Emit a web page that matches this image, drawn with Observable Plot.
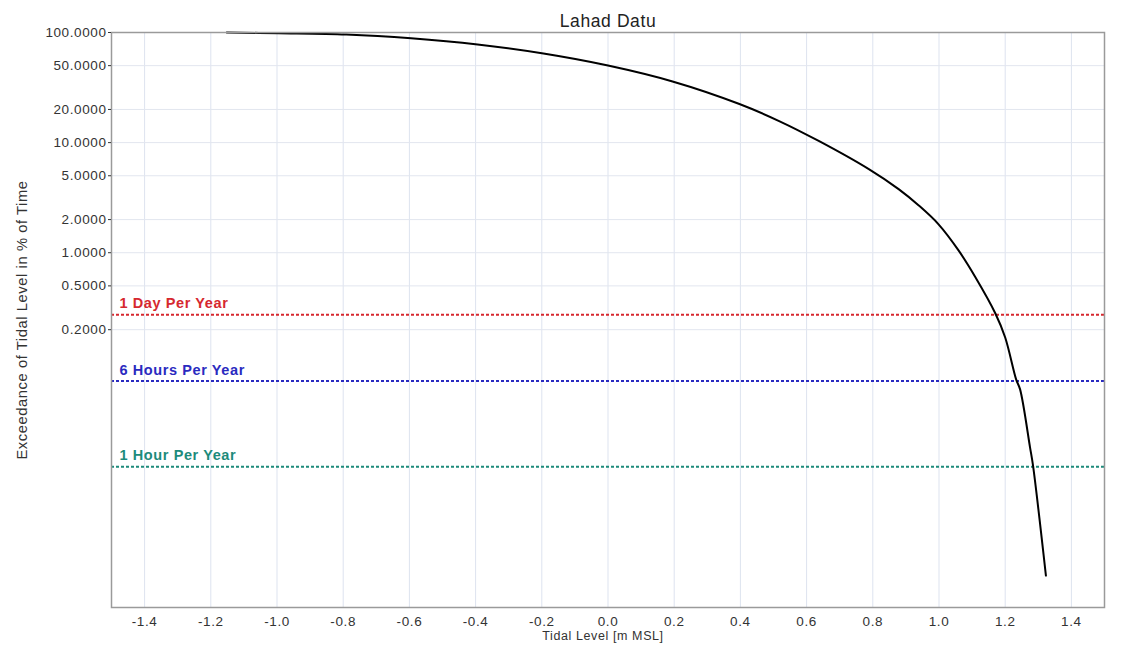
<!DOCTYPE html>
<html><head><meta charset="utf-8">
<script src="https://cdn.jsdelivr.net/npm/d3@7"></script>
<script src="https://cdn.jsdelivr.net/npm/@observablehq/plot@0.6"></script>
<style>
body{margin:0;background:#fff;}
#chart svg text{letter-spacing:0.6px;}
</style>
</head><body><div id="chart"></div>
<script>
// Data
const tidalLevel = [-1.152, -0.995, -0.791, -0.595, -0.394, -0.195, 0.0, 0.195, 0.397, 0.517, 0.638, 0.788, 0.878, 0.938, 0.998, 1.059, 1.110, 1.170, 1.200, 1.233, 1.245, 1.275, 1.284, 1.323];
const exceedance = [100, 98.5, 95.9, 88.6, 77.8, 64.4, 50.1, 35.9, 22.4, 15.7, 10.3, 5.74, 3.78, 2.70, 1.82, 1.05, 0.599, 0.282, 0.170, 0.0708, 0.0574, 0.0171, 0.0117, 0.00117];

const refLabels = ["1 Day Per Year", "6 Hours Per Year", "1 Hour Per Year"];
const refValues = [0.274, 0.0685, 0.0114];
const refColors = ["#d6282f", "#2a2ac0", "#1d8b7b"];

const xTicks = [-1.4, -1.2, -1.0, -0.8, -0.6, -0.4, -0.2, 0.0, 0.2, 0.4, 0.6, 0.8, 1.0, 1.2, 1.4];
const yTicks = [100, 50, 20, 10, 5, 2, 1, 0.5, 0.2];

const titleText = "Lahad Datu";
const xLabel = "Tidal Level [m MSL]";
const yLabel = "Exceedance of Tidal Level in % of Time";

const curveData = tidalLevel.map((x, i) => ({x, y: exceedance[i]}));
const refs = refLabels.map((label, i) => ({label, value: refValues[i], color: refColors[i]}));

const chart = Plot.plot({
  width: 1127,
  height: 645,
  marginTop: 32,
  marginLeft: 111,
  marginRight: 23,
  marginBottom: 38,
  style: {fontFamily: "'Liberation Sans', Arial, sans-serif", fontSize: "13px", color: "#333", background: "#fff"},
  x: {domain: [-1.5, 1.5]},
  y: {type: "log", domain: [0.0006, 100]},
  color: {type: "identity"},
  marks: [
    Plot.gridX(xTicks, {stroke: "#dde3ef", strokeOpacity: 1}),
    Plot.gridY(yTicks, {stroke: "#e2e6ef", strokeOpacity: 1}),
    Plot.ruleY(refs, {y: "value", stroke: "color", strokeWidth: 2, strokeDasharray: "3,2"}),
    Plot.text(refs, {x: -1.5, y: "value", text: "label", fill: "color", textAnchor: "start", dx: 8, dy: -11, fontWeight: "bold", fontSize: 14.5}),
    Plot.line(curveData, {x: "x", y: "y", stroke: "black", strokeWidth: 2, curve: "catmull-rom"}),
    Plot.frame({stroke: "#9a9a9a", strokeWidth: 1.5}),
    Plot.axisX(xTicks, {tickSize: 0, tickPadding: 9, tickFormat: d => d.toFixed(1), fontSize: 13.5, label: null}),
    Plot.axisY(yTicks, {tickSize: 3, tickFormat: () => "", label: null}),
    Plot.text(yTicks, {y: d => d, frameAnchor: "left", text: d => d.toFixed(4), textAnchor: "end", dx: -5, fontSize: 13.5, fill: "#333"}),
    Plot.text([xLabel], {frameAnchor: "bottom", lineAnchor: "top", dx: -5, dy: 24, fontSize: 12.5, fill: "#333"}),
    Plot.text([yLabel], {frameAnchor: "left", textAnchor: "middle", dx: -89, rotate: -90, fontSize: 14.7, fill: "#333"}),
    Plot.text([titleText], {frameAnchor: "top", lineAnchor: "middle", dy: -11, fontSize: 17.5, fill: "#222"})
  ]
});
document.getElementById("chart").appendChild(chart);
</script>
</body></html>
